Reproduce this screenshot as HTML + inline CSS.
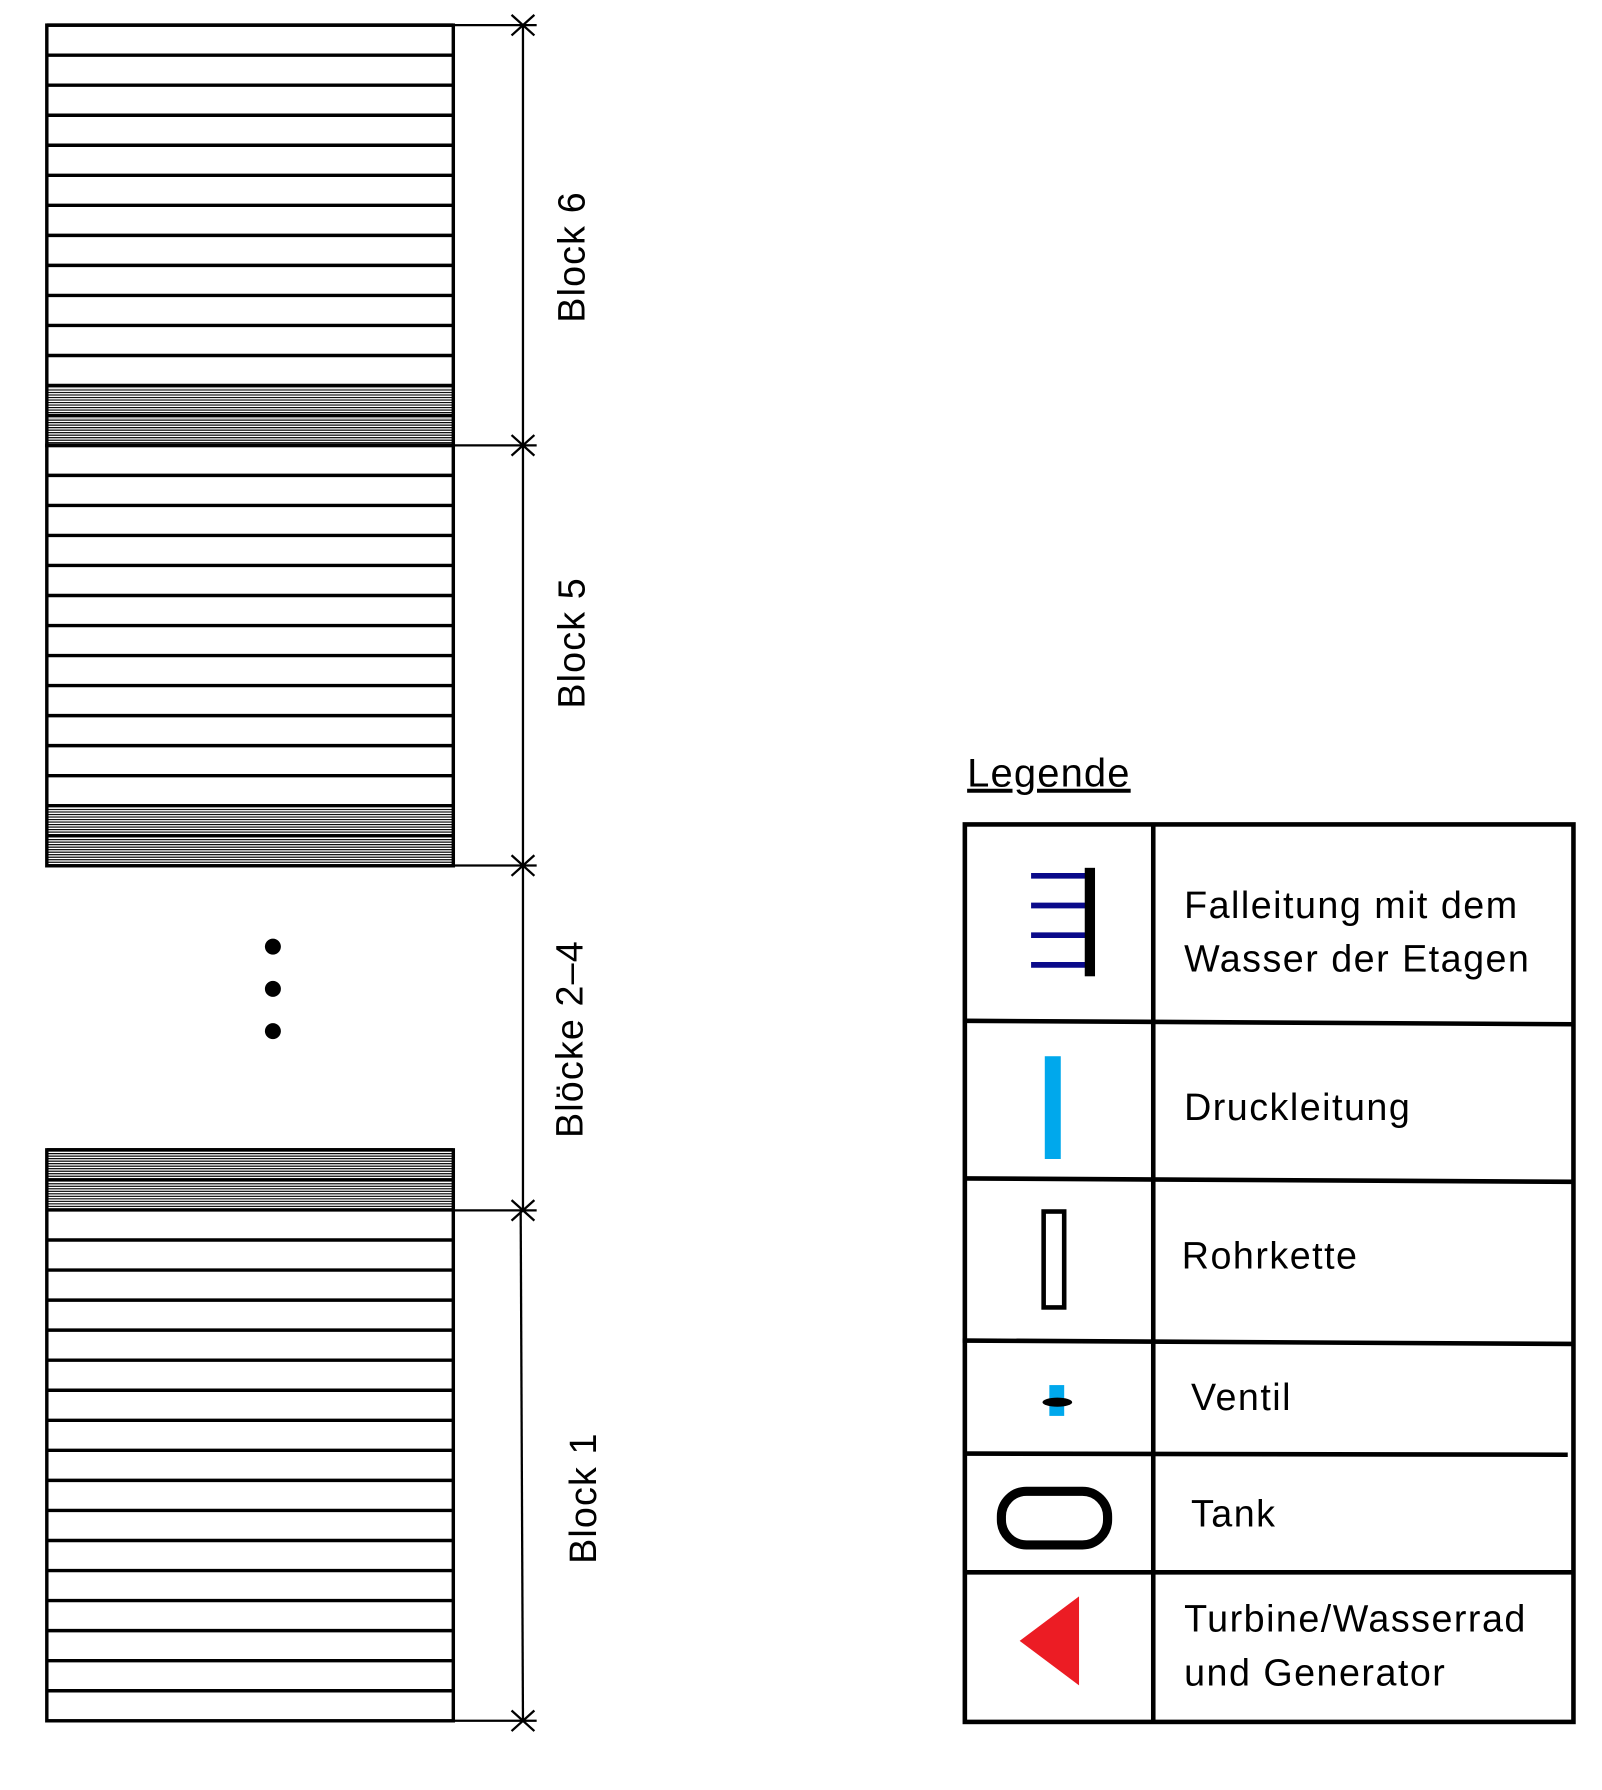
<!DOCTYPE html>
<html><head><meta charset="utf-8"><style>
html,body{margin:0;padding:0;background:#fff;}
svg{display:block;font-family:"Liberation Sans","DejaVu Sans",sans-serif;}
</style></head><body>
<svg id="s" width="1602" height="1790" viewBox="0 0 1403 1567.6">
<defs>
<pattern id="hatch" width="4" height="2.2" patternUnits="userSpaceOnUse">
<rect width="4" height="1" fill="#000"/>
</pattern>
</defs>
<g id="floors"></g>
<g>
<circle cx="239" cy="829" r="7" fill="#000"/>
<circle cx="239" cy="866" r="7" fill="#000"/>
<circle cx="239" cy="903" r="7" fill="#000"/>
</g>
<g id="dim" stroke="#000" stroke-width="2" fill="none">
<line x1="458" y1="22" x2="458" y2="1060"/>
<line x1="456" y1="1060" x2="458" y2="1507"/>
</g>
<g font-size="33" fill="#000" letter-spacing="1">
<text transform="translate(512,225) rotate(-90)" text-anchor="middle">Block 6</text>
<text transform="translate(512,563) rotate(-90)" text-anchor="middle">Block 5</text>
<text transform="translate(510,910) rotate(-90)" text-anchor="middle">Blöcke 2–4</text>
<text transform="translate(522,1312) rotate(-90)" text-anchor="middle">Block 1</text>
</g>
<text x="847" y="689" font-size="35" letter-spacing="1" text-decoration="underline">Legende</text>
<g stroke="#000" stroke-width="4" fill="none">
<rect x="845" y="722" width="533" height="786"/>
<line x1="1010" y1="722" x2="1010" y2="1508"/>
<line x1="845" y1="894" x2="1378" y2="897"/>
<line x1="845" y1="1032" x2="1378" y2="1035"/>
<line x1="843" y1="1174" x2="1378" y2="1177"/>
<line x1="845" y1="1273" x2="1373" y2="1274"/>
<line x1="845" y1="1377" x2="1378" y2="1377"/>
</g>
<g font-size="33" fill="#000" letter-spacing="1.3">
<text x="1037" y="804">Falleitung mit dem</text>
<text x="1037" y="851">Wasser der Etagen</text>
<text x="1037" y="981">Druckleitung</text>
<text x="1035" y="1111">Rohrkette</text>
<text x="1043" y="1235">Ventil</text>
<text x="1043" y="1337">Tank</text>
<text x="1037" y="1429">Turbine/Wasserrad</text>
<text x="1037" y="1476">und Generator</text>
</g>
<g>
<g stroke="#0a0a8a" stroke-width="5">
<line x1="903" y1="767" x2="952" y2="767"/>
<line x1="903" y1="793" x2="952" y2="793"/>
<line x1="903" y1="819" x2="952" y2="819"/>
<line x1="903" y1="845" x2="952" y2="845"/>
</g>
<rect x="950" y="760" width="9" height="95" fill="#000"/>
</g>
<rect x="915" y="925" width="14" height="90" fill="#00a8ec"/>
<rect x="914" y="1061" width="18" height="84" fill="none" stroke="#000" stroke-width="4"/>
<g>
<rect x="919" y="1213" width="13" height="27" fill="#00a8ec"/>
<ellipse cx="926" cy="1228" rx="13" ry="4" fill="#000"/>
</g>
<rect x="877" y="1306" width="93" height="47" rx="22" fill="none" stroke="#000" stroke-width="8"/>
<polygon points="893,1437 945,1398 945,1476" fill="#ec1c24"/>
</svg>
<script>
const rowH = 26.3;
// row kinds per block from top: w = white, h = hatched
const block6 = {top:22, rows:["w","w","w","w","w","w","w","w","w","w","w","w","h","h"]};
const block5 = {top:390, rows:["w","w","w","w","w","w","w","w","w","w","w","w","h","h"]};
const block1 = {top:1007, rows:["h","h","w","w","w","w","w","w","w","w","w","w","w","w","w","w","w","w","w"]};
const blocks = [block6, block5, block1];
const dimYs = [22, 390, 758, 1060, 1507];
const NS = "http://www.w3.org/2000/svg";
const g = document.getElementById('floors');
const x0 = 41, x1 = 397;
blocks.forEach((b) => {
  const rh = b === block1 ? (1507 - 1007) / b.rows.length : rowH;
  b.rows.forEach((k, i) => {
    const y = b.top + i * rh;
    if (k === "h") {
      const r = document.createElementNS(NS, 'rect');
      r.setAttribute('x', x0); r.setAttribute('y', y + 2);
      r.setAttribute('width', x1 - x0); r.setAttribute('height', rh - 3);
      r.setAttribute('fill', 'url(#hatch)');
      
      
      g.appendChild(r);
    }
    const l = document.createElementNS(NS, 'line');
    l.setAttribute('x1', x0); l.setAttribute('x2', x1);
    l.setAttribute('y1', y); l.setAttribute('y2', y);
    l.setAttribute('stroke', '#000'); l.setAttribute('stroke-width', '3');
    
    
    g.appendChild(l);
  });
  const bottom = b.top + b.rows.length * rh;
  const f = document.createElementNS(NS, 'rect');
  f.setAttribute('x', x0); f.setAttribute('y', b.top);
  f.setAttribute('width', x1 - x0); f.setAttribute('height', bottom - b.top);
  f.setAttribute('fill', 'none'); f.setAttribute('stroke', '#000'); f.setAttribute('stroke-width', '3');
  
  
  g.appendChild(f);
});
const d = document.getElementById('dim');
dimYs.forEach((y) => {
  const l = document.createElementNS(NS, 'line');
  l.setAttribute('x1', x1); l.setAttribute('x2', 470); l.setAttribute('y1', y); l.setAttribute('y2', y);
  
  
  d.appendChild(l);
  const c = document.createElementNS(NS, 'path');
  c.setAttribute('d', `M448 ${y-9} L468 ${y+9} M448 ${y+9} L468 ${y-9}`);
  
  
  d.appendChild(c);
});
</script>
</body></html>
